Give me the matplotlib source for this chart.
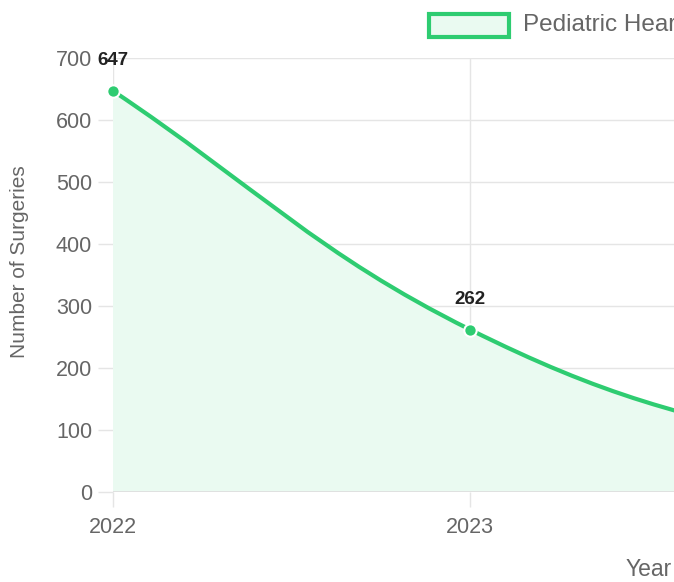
import numpy as np
import matplotlib.pyplot as plt
from matplotlib.path import Path
from matplotlib.patches import PathPatch, Rectangle

years = ['2022', '2023', '2024', '2025']
surgeries = [647, 262, 75, 30]
yticks = [0, 100, 200, 300, 400, 500, 600, 700]

green = '#2ecc71'
fill_green = '#eafaf1'
grid_col = '#e5e5e5'
text_col = '#666666'

plt.rcParams['font.family'] = ['Liberation Sans', 'DejaVu Sans']

W, H = 674, 582
fig = plt.figure(figsize=(W / 100, H / 100), dpi=100)
# chart area runs past the right edge of the picture (cropped chart)
ax = fig.add_axes([113 / W, 1 - 492 / H, (1184 - 113) / W, (492 - 58) / H])

x = np.arange(len(years))
ax.set_xlim(0, len(years) - 1)
ax.set_ylim(0, 700)


def spline_path(xs, ys, tension=0.4):
    # same control points as chart.js line tension, worked out in pixels
    pts = ax.transData.transform(np.column_stack([xs, ys]))
    n = len(pts)
    ctrl = []
    for i in range(n):
        prev = pts[i - 1] if i > 0 else pts[i]
        cur = pts[i]
        nxt = pts[i + 1] if i < n - 1 else pts[i]
        d01 = np.hypot(*(cur - prev))
        d12 = np.hypot(*(nxt - cur))
        tot = d01 + d12
        s01 = d01 / tot if tot else 0
        s12 = d12 / tot if tot else 0
        ctrl.append((cur - tension * s01 * (nxt - prev),
                     cur + tension * s12 * (nxt - prev)))
    verts = [pts[0]]
    codes = [Path.MOVETO]
    for i in range(n - 1):
        verts += [ctrl[i][1], ctrl[i + 1][0], pts[i + 1]]
        codes += [Path.CURVE4] * 3
    verts = ax.transData.inverted().transform(np.array(verts))
    verts[:, 1] = np.clip(verts[:, 1], 0, 700)
    return verts, codes


verts, codes = spline_path(x, surgeries)

fill_verts = np.vstack([verts, [[x[-1], 0], [x[0], 0], [x[0], 0]]])
fill_codes = codes + [Path.LINETO, Path.LINETO, Path.CLOSEPOLY]
ax.add_patch(PathPatch(Path(fill_verts, fill_codes), facecolor=fill_green,
                       edgecolor='none', zorder=1))
ax.add_patch(PathPatch(Path(verts, codes), facecolor='none', edgecolor=green,
                       lw=3, zorder=2, capstyle='round', joinstyle='round'))
ax.scatter(x, surgeries, s=80, color=green, edgecolor='white', linewidth=1.5,
           zorder=3, clip_on=False)

# value labels (only the ones that fall inside the visible picture)
for xi, v in zip(x[:2], surgeries[:2]):
    ax.annotate(str(v), (xi, v), xytext=(0, 22), textcoords='offset points',
                ha='center', va='center', fontsize=13.5, fontweight='bold',
                color='#222222', annotation_clip=False)

ax.set_xticks(x)
ax.set_xticklabels(years)
ax.set_yticks(yticks)
ax.grid(True, color=grid_col, lw=1)
ax.set_axisbelow(True)
for s in ax.spines.values():
    s.set_visible(False)
ax.tick_params(axis='both', colors=grid_col, labelcolor=text_col,
               labelsize=15.5, length=11, width=1)
ax.tick_params(axis='y', pad=4)
ax.tick_params(axis='x', pad=7)
ax.axhline(0, color='#dddddd', lw=1.2, zorder=1.5)

fig.text(20 / W, 1 - 262 / H, 'Number of Surgeries', rotation=90,
         ha='center', va='center', fontsize=15, color=text_col)
fig.text(626 / W, 1 - 570 / H, 'Year', ha='left', va='center',
         fontsize=16.5, color=text_col)

# legend (centered on the full canvas, cropped on the right)
fig.patches.append(Rectangle((429 / W, 1 - 37 / H), 80 / W, 23 / H,
                             transform=fig.transFigure, facecolor=fill_green,
                             edgecolor=green, lw=3))
fig.text(523 / W, 1 - 25 / H, 'Pediatric Heart Surgeries', ha='left',
         va='center', fontsize=17.5, color=text_col)

fig.savefig('out.png', dpi=100)
